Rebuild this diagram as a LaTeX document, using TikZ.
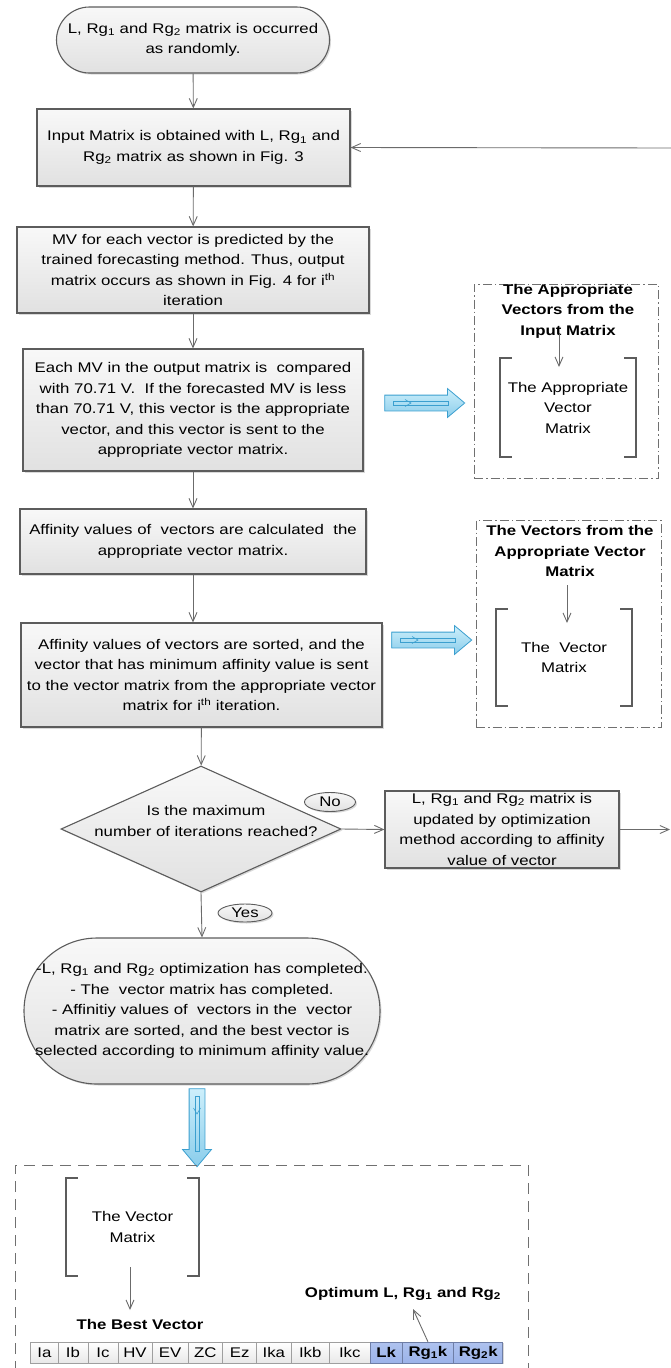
\documentclass[tikz,border=0pt]{standalone}
\usepackage{fontspec}
\setmainfont{Liberation Sans}[FakeStretch=1.2]
\usetikzlibrary{arrows.meta,shapes.geometric,shapes.arrows,shadows,calc}

\definecolor{edgegray}{HTML}{5C5C5C}
\definecolor{wiregray}{HTML}{6B6B6B}
\definecolor{boxtop}{HTML}{F8F8F8}
\definecolor{boxbot}{HTML}{E1E1E1}
\definecolor{flowedge}{HTML}{3B9FCF}
\definecolor{flowtop}{HTML}{CDEFFB}
\definecolor{flowbot}{HTML}{8ACDEB}
\definecolor{keyblue}{HTML}{9BB3EA}
\definecolor{keyedge}{HTML}{6E7EA6}
\definecolor{panelgray}{HTML}{707070}

\tikzset{
  box/.style={draw=edgegray, line width=1.1pt, top color=boxtop, bottom color=boxbot,
    inner sep=0pt, align=center,
    drop shadow={shadow xshift=1.5pt, shadow yshift=-1.5pt, opacity=0.25, fill=black!60}},
  term/.style={box, rounded corners=33pt},
  tag/.style={ellipse, box, line width=0.9pt},
  conn/.style={draw=wiregray, line width=0.9pt, -{Straight Barb[length=9pt,width=8pt]}},
  panel/.style={draw=panelgray, line width=1pt, dash pattern=on 9pt off 3pt on 1.5pt off 3pt},
  frameline/.style={draw=panelgray, line width=1pt, dash pattern=on 11pt off 7pt},
  brk/.style={draw=edgegray, line width=2pt},
  heading/.style={font=\fontsize{14}{20.5}\selectfont\bfseries, align=center, inner sep=0pt},
  txt/.style={align=center, inner sep=0pt},
  flow/.style={single arrow, draw=flowedge, line width=0.8pt, top color=flowtop, bottom color=flowbot,
    minimum height=80pt, minimum width=28pt, inner sep=7.5pt,
    single arrow head extend=6.5pt, single arrow tip angle=80},
  cell/.style={draw=gray!75, line width=0.7pt, top color=white, bottom color=gray!18,
    minimum height=21pt, inner sep=0pt,
    drop shadow={shadow xshift=1pt, shadow yshift=-1pt, opacity=0.25, fill=black!60}},
  keycell/.style={cell, top color=keyblue!80, bottom color=keyblue, draw=keyedge,
    font=\fontsize{14}{20.5}\selectfont\bfseries},
}

% square brackets drawn on the sides of a matrix node
\newcommand\matbrackets[1]{%
  \draw[brk] ([xshift=12pt]#1.north west) -- (#1.north west) -- (#1.south west) -- ([xshift=12pt]#1.south west);
  \draw[brk] ([xshift=-12pt]#1.north east) -- (#1.north east) -- (#1.south east) -- ([xshift=-12pt]#1.south east);}

% thin inner line and small head inside a block arrow
\newcommand\flowinner[2]{%
  \begin{scope}[shift={(#1.center)}, rotate=#2, draw=flowedge, line width=0.6pt]
    \draw[flowedge] (-27pt,2pt) rectangle (28pt,-2pt);
    \draw[flowedge] (-15pt,3.5pt) -- (-9pt,0pt) -- (-15pt,-3.5pt);
  \end{scope}}

\begin{document}
\begin{tikzpicture}[x=1pt, y=-1pt, font=\fontsize{14}{20.5}\selectfont]
\useasboundingbox (0,0) rectangle (671,1368);
\clip (0,0) rectangle (671,1368);

% ---- main flow ----
\node[term, minimum width=273pt, minimum height=66pt] (start) at (193,40)
  {L, Rg\textsubscript{1} and Rg\textsubscript{2} matrix is occurred\\as randomly.};

\node[box, minimum width=313pt, minimum height=77pt] (input) at (193.5,147.5)
  {Input Matrix is obtained with L, Rg\textsubscript{1} and\\Rg\textsubscript{2} matrix as shown in Fig. 3};

\node[box, minimum width=352pt, minimum height=86pt] (mv) at (193,270)
  {MV for each vector is predicted by the\\trained forecasting method. Thus, output\\
   matrix occurs as shown in Fig. 4 for i\textsuperscript{th}\\iteration};

\node[box, minimum width=340pt, minimum height=122pt] (each) at (193,410)
  {Each MV in the output matrix is\ \ compared\\with 70.71 V.\ \ If the forecasted MV is less\\
   than 70.71 V, this vector is the appropriate\\vector, and this vector is sent to the\\
   appropriate vector matrix.};

\node[box, minimum width=346pt, minimum height=65pt] (aff) at (193,541.5)
  {Affinity values of\ \ vectors are calculated\ \ the\\appropriate vector matrix.};

\node[box, minimum width=361pt, minimum height=104pt] (sorted) at (201.5,675)
  {Affinity values of vectors are sorted, and the\\vector that has minimum affinity value is sent\\
   to the vector matrix from the appropriate vector\\matrix for i\textsuperscript{th} iteration.};

\node[diamond, box, minimum width=280pt, minimum height=126pt] (dec) at (201,829) {};
\node[txt] (decq) at (206,821) {Is the maximum\\number of iterations reached?};

\node[tag, minimum width=51pt, minimum height=19pt] (no) at (330,802) {No};
\node[tag, minimum width=54pt, minimum height=18pt] (yes) at (245,913) {Yes};

\node[box, minimum width=234pt, minimum height=77pt] (update) at (502,829.5)
  {L, Rg\textsubscript{1} and Rg\textsubscript{2} matrix is\\updated by optimization\\
   method according to affinity\\value of vector};

\node[box, rounded corners=73pt, minimum width=356pt, minimum height=146pt] (done) at (202,1011)
  {-L, Rg\textsubscript{1} and Rg\textsubscript{2} optimization has completed.\\
   - The\ \ vector matrix has completed.\\
   - Affinitiy values of\ \ vectors in the\ \ vector\\
   matrix are sorted, and the best vector is\\
   selected according to minimum affinity value.};

\coordinate (loopout) at (670,829.5);
\coordinate (loopin) at (671,148);

\draw[conn] (start) -- (input);
\draw[conn] (input) -- (mv);
\draw[conn] (mv) -- (each);
\draw[conn] (each) -- (aff);
\draw[conn] (aff.south) -- (aff.south |- sorted.north);
\draw[conn] (sorted) -- (dec);
\draw[conn] (dec.east) -- (update.west);
\draw[conn] (dec.south) -- (done.north);
\draw[conn] (update.east) -- (loopout);
\draw[conn] (loopin) -- (input.east);

% ---- appropriate vectors panel ----
\node[panel, minimum width=184pt, minimum height=194pt] (p1) at (566,381) {};
\node[heading] (p1t) at (568,311) {The Appropriate\\Vectors from the\\Input Matrix};
\node[txt, minimum width=136pt, minimum height=99pt] (m1) at (568,407.5)
  {The Appropriate\\Vector\\Matrix};
\matbrackets{m1}
\coordinate (p1a) at (559,334);
\coordinate (p1b) at (559,367);
\draw[conn] (p1a) -- (p1b);

\node[flow] (fa1) at (420,403) {};
\flowinner{fa1}{0}

% ---- vector matrix panel ----
\node[panel, minimum width=185pt, minimum height=207pt] (p2) at (568.5,623.5) {};
\node[heading] (p2t) at (570,551) {The Vectors from the\\Appropriate Vector\\Matrix};
\node[txt, minimum width=136pt, minimum height=97pt] (m2) at (564,657.5)
  {The\ \ Vector\\Matrix};
\matbrackets{m2}
\coordinate (p2a) at (567,585);
\coordinate (p2b) at (567,623);
\draw[conn] (p2a) -- (p2b);

\node[flow] (fa2) at (427,640) {};
\flowinner{fa2}{0}

% ---- best vector panel ----
\node[flow, shape border rotate=270, minimum height=78pt] (fa3) at (197,1123) {};
\flowinner{fa3}{-90}

\draw[frameline] (15,1372) -- (15,1165) -- (528,1165) -- (528,1372);

\node[txt, minimum width=133pt, minimum height=98pt] (m3) at (132.5,1227)
  {The Vector\\Matrix};
\matbrackets{m3}
\coordinate (m3a) at (130,1267);
\coordinate (m3b) at (130,1310);
\draw[conn] (m3a) -- (m3b);

\node[heading] (best) at (140,1324) {The Best Vector};
\node[heading] (opt) at (403,1294) {Optimum L, Rg\textsubscript{1} and Rg\textsubscript{2}};

\foreach \a/\b/\t [count=\i] in {30.7/58/Ia, 58/88/Ib, 88/118/Ic, 118/152/HV, 152/188.3/EV,
    188.3/222.5/ZC, 222.5/256.7/Ez, 256.7/291/Ika, 291/329.5/Ikb, 329.5/370/Ikc}
  \node[cell, minimum width={(\b-\a)*1pt}] (c\i) at ({(\a+\b)/2},1352.5) {\t};
\node[keycell, minimum width=32.2pt] (kL) at (386.1,1352.5) {Lk};
\node[keycell, minimum width=51.4pt] (kR1) at (427.9,1352.5) {Rg\textsubscript{1}k};
\node[keycell, minimum width=49.2pt] (kR2) at (478.2,1352.5) {Rg\textsubscript{2}k};

\coordinate (optTip) at (413,1309);
\draw[conn] (kR1.north) -- (optTip);
\end{tikzpicture}
\end{document}
